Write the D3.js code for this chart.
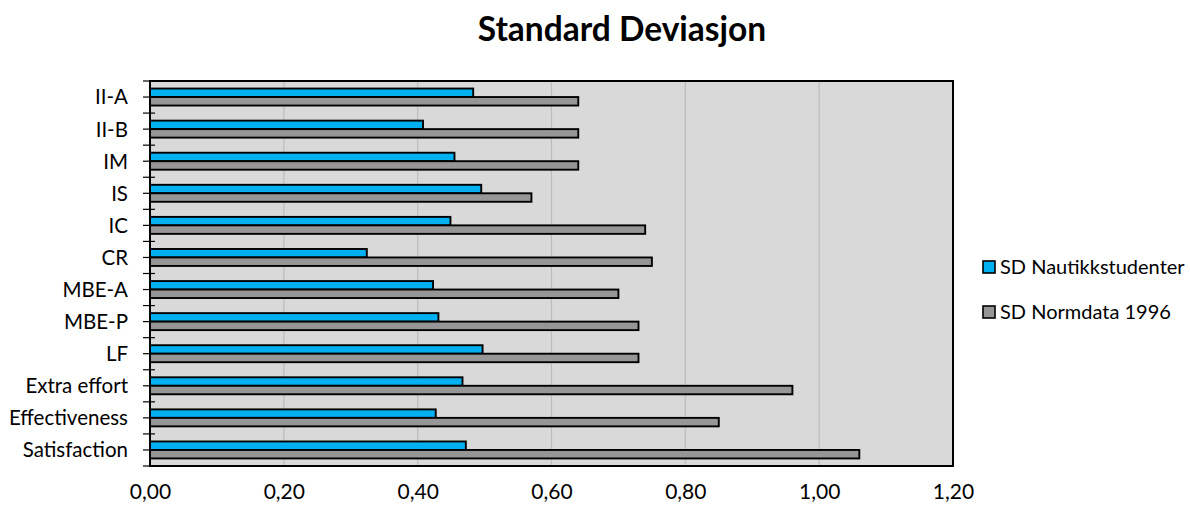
<!DOCTYPE html>
<html>
<head>
<meta charset="utf-8">
<script src="https://cdn.jsdelivr.net/npm/d3@7"></script>
<style>
  html, body { margin: 0; padding: 0; background: #fff; }
  svg { display: block; font-family: Lato, "Open Sans", sans-serif; }
</style>
</head>
<body>
<svg id="chart" width="1190" height="506"></svg>
<script>
// Categories, top to bottom
const categories = ["II-A", "II-B", "IM", "IS", "IC", "CR", "MBE-A", "MBE-P", "LF",
  "Extra effort", "Effectiveness", "Satisfaction"];

// Standard deviations per series
const sdNautikk = [0.483, 0.408, 0.455, 0.495, 0.449, 0.324, 0.423, 0.431, 0.497, 0.467, 0.427, 0.472];
const sdNorm1996 = [0.64, 0.64, 0.64, 0.57, 0.74, 0.75, 0.70, 0.73, 0.73, 0.96, 0.85, 1.06];

const seriesNames = ["SD Nautikkstudenter", "SD Normdata 1996"];
const seriesColors = ["#00B0F0", "#969696"];
const xTicks = [0, 0.2, 0.4, 0.6, 0.8, 1.0, 1.2];

const svg = d3.select("#chart");
const plot = { left: 150, right: 953, top: 81, bottom: 466 };
const font = "Lato, 'Open Sans', sans-serif";

const x = d3.scaleLinear().domain([0, 1.2]).range([plot.left, plot.right]);
const y = d3.scaleBand().domain(categories).range([plot.top, plot.bottom]).padding(0);
const ySeries = d3.scaleBand().domain([0, 1]).range([0, y.bandwidth()])
  .paddingInner(0).paddingOuter(0.89);

// Title
svg.append("text")
  .attr("x", 622).attr("y", 41)
  .attr("text-anchor", "middle")
  .attr("font-size", 33.5).attr("font-weight", "bold")
  .attr("fill", "#000")
  .text("Standard Deviasjon");

// Plot background
svg.append("rect")
  .attr("x", plot.left).attr("y", plot.top)
  .attr("width", plot.right - plot.left).attr("height", plot.bottom - plot.top)
  .attr("fill", "#D9D9D9");

// Vertical gridlines
svg.append("g")
  .selectAll("line")
  .data(xTicks.filter(t => t > 0 && t < 1.2))
  .join("line")
  .attr("x1", d => x(d)).attr("x2", d => x(d))
  .attr("y1", plot.top).attr("y2", plot.bottom)
  .attr("stroke", "#BDBDBD").attr("stroke-width", 1.2);

// Bars
const rows = categories.map((c, i) => ({ c, vals: [sdNautikk[i], sdNorm1996[i]] }));
const groups = svg.append("g").selectAll("g")
  .data(rows)
  .join("g")
  .attr("transform", d => `translate(0,${y(d.c)})`);

groups.selectAll("rect")
  .data(d => d.vals.map((v, k) => ({ v, k })))
  .join("rect")
  .attr("x", x(0))
  .attr("y", d => ySeries(d.k))
  .attr("width", d => x(d.v) - x(0))
  .attr("height", ySeries.bandwidth())
  .attr("fill", d => seriesColors[d.k])
  .attr("stroke", "#000").attr("stroke-width", 1.9);

// Plot border
svg.append("rect")
  .attr("x", plot.left).attr("y", plot.top)
  .attr("width", plot.right - plot.left).attr("height", plot.bottom - plot.top)
  .attr("fill", "none").attr("stroke", "#000").attr("stroke-width", 2);

// X axis labels
const xAxis = d3.axisBottom(x)
  .tickValues(xTicks)
  .tickSize(0).tickPadding(18)
  .tickFormat(d => d3.format(".2f")(d).replace(".", ","));
const gx = svg.append("g")
  .attr("transform", `translate(0,${plot.bottom})`)
  .call(xAxis);
gx.select(".domain").remove();
gx.selectAll("text").attr("font-size", 21).attr("fill", "#000")
  .attr("font-family", font);

// Y axis: labels at band centers, ticks at band edges and centers
const yAxis = d3.axisLeft(y).tickSize(7).tickPadding(15);
const gy = svg.append("g")
  .attr("transform", `translate(${plot.left},0)`)
  .call(yAxis);
gy.select(".domain").remove();
gy.selectAll(".tick line").attr("stroke", "#000").attr("stroke-width", 1.2);
gy.selectAll("text").attr("font-size", 20.5).attr("fill", "#000")
  .attr("font-family", font).attr("dy", "0.36em");

const edges = categories.map(c => y(c)).concat([plot.bottom]);
svg.append("g").selectAll("line")
  .data(edges)
  .join("line")
  .attr("x1", plot.left - 7).attr("x2", plot.left + 5)
  .attr("y1", d => d).attr("y2", d => d)
  .attr("stroke", "#000").attr("stroke-width", 1.2);

// Legend
const legend = svg.append("g").attr("transform", "translate(983,260)");
const items = legend.selectAll("g")
  .data(seriesNames)
  .join("g")
  .attr("transform", (d, i) => `translate(0,${i * 45})`);
items.append("rect")
  .attr("x", 0).attr("y", 1)
  .attr("width", 12).attr("height", 12)
  .attr("fill", (d, i) => seriesColors[i])
  .attr("stroke", "#000").attr("stroke-width", 1.6);
items.append("text")
  .attr("x", 17).attr("y", 14)
  .attr("font-size", 20).attr("fill", "#000")
  .text(d => d);
</script>
</body>
</html>
